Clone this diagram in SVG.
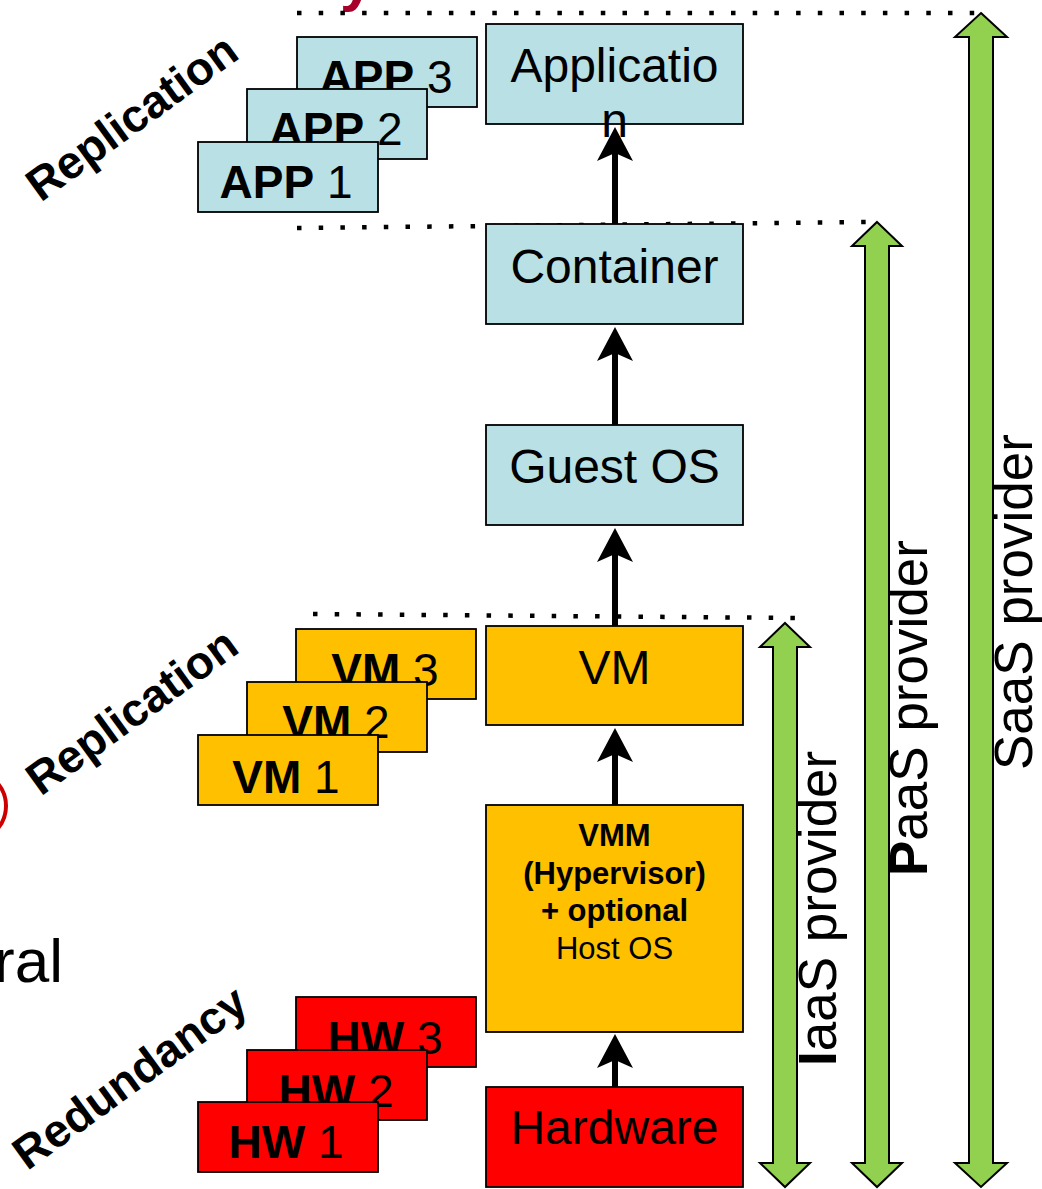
<svg xmlns="http://www.w3.org/2000/svg" width="1042" height="1189" viewBox="0 0 1042 1189">
<style>
text{font-family:"Liberation Sans",Arial,sans-serif;fill:#000}
.teal{fill:#B9E0E4;stroke:#000;stroke-width:1.8}
.orange{fill:#FFC000;stroke:#000;stroke-width:1.8}
.red{fill:#FF0000;stroke:#000;stroke-width:1.8}
.lbl{font-size:48px;text-anchor:middle}
.stk{font-size:46px;text-anchor:middle}
.b{font-weight:bold}
.vmm{font-size:31px;text-anchor:middle}
.diag{font-size:46px;font-weight:bold;text-anchor:middle}
.vert{font-size:53px}
.dots{stroke:#000;stroke-width:4.5;stroke-dasharray:4.5 17.2;fill:none}
.conn{stroke:#000;stroke-width:6;fill:none;marker-end:url(#ah)}
.green{fill:#92D050;stroke:#000;stroke-width:2;stroke-linejoin:miter}
</style>
<defs>
<marker id="ah" viewBox="0 0 34 36" refX="8" refY="18" markerWidth="34" markerHeight="36" orient="auto" markerUnits="userSpaceOnUse">
<path d="M0,0 L34,18 L0,36 L8,18 Z" fill="#000"/>
</marker>
</defs>

<!-- fragments at edges -->
<text x="340" y="0" font-size="60" font-weight="bold" style="fill:#A8002A">y</text>
<text x="63" y="982" font-size="62" text-anchor="end">ral</text>
<circle cx="-29" cy="806" r="35" fill="none" stroke="#CC0000" stroke-width="4"/>

<!-- dotted separators -->
<g id="separators">
<line class="dots" x1="297" y1="13" x2="978" y2="13"/>
<line class="dots" x1="297" y1="228" x2="870" y2="222"/>
<line class="dots" x1="313" y1="614" x2="797" y2="618"/>
</g>

<!-- stacks -->
<g id="app-stack">
<rect class="teal" x="297" y="37" width="180" height="70"/>
<text class="stk" x="386" y="93"><tspan class="b">APP</tspan> 3</text>
<rect class="teal" x="247" y="89" width="180" height="70"/>
<text class="stk" x="336" y="145"><tspan class="b">APP</tspan> 2</text>
<rect class="teal" x="198" y="142" width="180" height="70"/>
<text class="stk" x="286" y="198"><tspan class="b">APP</tspan> 1</text>
</g>
<g id="vm-stack">
<rect class="orange" x="296" y="629" width="180" height="70"/>
<text class="stk" x="385" y="686"><tspan class="b">VM</tspan> 3</text>
<rect class="orange" x="247" y="682" width="180" height="70"/>
<text class="stk" x="336" y="738"><tspan class="b">VM</tspan> 2</text>
<rect class="orange" x="198" y="735" width="180" height="70"/>
<text class="stk" x="286" y="793"><tspan class="b">VM</tspan> 1</text>
</g>
<g id="hw-stack">
<rect class="red" x="296" y="997" width="180" height="70"/>
<text class="stk" x="385" y="1054"><tspan class="b">HW</tspan> 3</text>
<rect class="red" x="247" y="1050" width="180" height="70"/>
<text class="stk" x="336" y="1107"><tspan class="b">HW</tspan> 2</text>
<rect class="red" x="198" y="1102" width="180" height="70"/>
<text class="stk" x="286" y="1158"><tspan class="b">HW</tspan> 1</text>
</g>

<!-- diagonal labels -->
<text class="diag" x="141" y="130" transform="rotate(-36 141 130)">Replication</text>
<text class="diag" x="141" y="724" transform="rotate(-36 141 724)">Replication</text>
<text class="diag" x="139" y="1090" transform="rotate(-36 139 1090)">Redundancy</text>

<!-- main layers -->
<g id="application">
<rect class="teal" x="486" y="24" width="257" height="100"/>
<text class="lbl" x="614.5" y="82">Applicatio</text>
<text class="lbl" x="614.5" y="137">n</text>
</g>
<g id="container">
<rect class="teal" x="486" y="224" width="257" height="100"/>
<text class="lbl" x="614.5" y="283">Container</text>
</g>
<g id="guest-os">
<rect class="teal" x="486" y="425" width="257" height="100"/>
<text class="lbl" x="614.5" y="483">Guest OS</text>
</g>
<g id="vm">
<rect class="orange" x="486" y="626" width="257" height="99"/>
<text class="lbl" x="614.5" y="684">VM</text>
</g>
<g id="vmm">
<rect class="orange" x="486" y="805" width="257" height="227"/>
<text class="vmm b" x="614.5" y="846">VMM</text>
<text class="vmm b" x="614.5" y="884">(Hypervisor)</text>
<text class="vmm b" x="614.5" y="921">+ optional</text>
<text class="vmm" x="614.5" y="959">Host OS</text>
</g>
<g id="hardware">
<rect class="red" x="486" y="1087" width="257" height="100"/>
<text class="lbl" x="614.5" y="1144">Hardware</text>
</g>

<!-- connectors -->
<g id="connectors">
<line class="conn" x1="615" y1="224" x2="615" y2="153"/>
<line class="conn" x1="615" y1="425" x2="615" y2="353"/>
<line class="conn" x1="615" y1="626" x2="615" y2="554"/>
<line class="conn" x1="615" y1="805" x2="615" y2="754"/>
<line class="conn" x1="615" y1="1087" x2="615" y2="1060"/>
</g>

<!-- provider ranges -->
<g id="iaas">
<path class="green" d="M785,623 L810,647 L797,647 L797,1163 L810,1163 L785,1187 L760,1163 L773,1163 L773,647 L760,647 Z"/>
<text class="vert" transform="translate(836 1066) rotate(-90)"><tspan class="b">I</tspan>aaS provider</text>
</g>
<g id="paas">
<path class="green" d="M877,222 L902,246 L889,246 L889,1163 L902,1163 L877,1187 L852,1163 L865,1163 L865,246 L852,246 Z"/>
<text class="vert" transform="translate(927 876) rotate(-90)"><tspan class="b">P</tspan>aaS provider</text>
</g>
<g id="saas">
<path class="green" d="M981,13 L1007,37 L993,37 L993,1163 L1007,1163 L981,1187 L955,1163 L969,1163 L969,37 L955,37 Z"/>
<text class="vert" transform="translate(1032 770) rotate(-90)">SaaS provider</text>
</g>
</svg>
